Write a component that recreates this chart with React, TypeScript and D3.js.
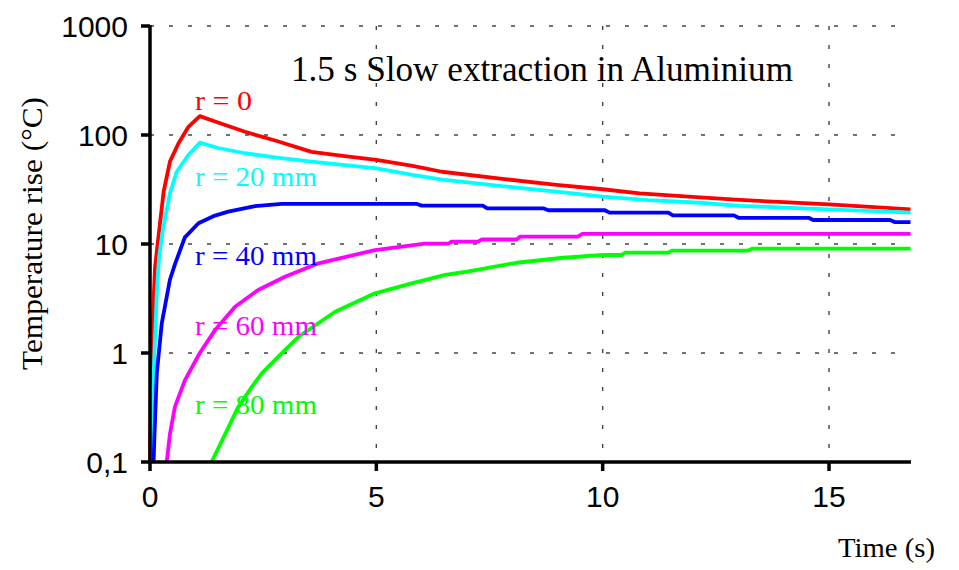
import React from "react";
import * as d3 from "d3";

// ---- data (time in s, temperature rise in °C) ----
const seriesNames = ["r = 0", "r = 20 mm", "r = 40 mm", "r = 60 mm", "r = 80 mm"];
const seriesColors = ["#ff0000", "#00ffff", "#0000ff", "#ff00ff", "#00ff00"];

const r0: [number, number][] = [
  [0, 0.1], [0.02, 0.6], [0.04, 1.1], [0.08, 3], [0.11, 6], [0.18, 11], [0.3, 30],
  [0.44, 57], [0.63, 84], [0.85, 119], [1.1, 149], [1.5, 130], [2.1, 107], [2.8, 88],
  [3.57, 70], [4.3, 64], [5.0, 59], [5.8, 52], [6.45, 46], [7.88, 39.2], [8.98, 34.8],
  [10, 31.8], [10.82, 29.2], [12.15, 26.8], [13.03, 25.4], [14, 24.2], [15, 23.1],
  [16, 21.8], [16.8, 20.8],
];
const r20: [number, number][] = [
  [0.02, 0.1], [0.06, 0.4], [0.1, 1], [0.15, 3.5], [0.2, 7.5], [0.29, 14], [0.44, 29],
  [0.59, 46], [0.85, 65.6], [1.1, 85], [1.5, 76], [2.1, 68], [2.8, 62], [3.57, 57],
  [5.0, 49.4], [5.8, 43], [6.45, 39], [7.88, 33.6], [8.98, 30.2], [10, 27.2], [11, 25.3],
  [12.15, 23.9], [13.03, 22.4], [14, 21.6], [15, 20.8], [16, 20], [16.8, 19.4],
];
const r40: [number, number][] = [
  [0.08, 0.1], [0.095, 0.16], [0.15, 0.65], [0.26, 1.87], [0.44, 4.7], [0.55, 6.5],
  [0.77, 11.5], [1.07, 15.5], [1.4, 18], [1.73, 19.8], [2.32, 22.3], [2.91, 23.3],
  [5.9, 23.3], [6.0, 22.5], [7.35, 22.5], [7.45, 21.2], [8.7, 21.2], [8.8, 20.4],
  [10.05, 20.4], [10.15, 19.4], [11.45, 19.4], [11.55, 18.3], [12.9, 18.3], [13.0, 17.4],
  [14.55, 17.4], [14.65, 16.6], [16.35, 16.6], [16.45, 15.9], [16.8, 15.9],
];
const r60: [number, number][] = [
  [0.37, 0.1], [0.44, 0.18], [0.55, 0.32], [0.77, 0.56], [1.1, 1.0], [1.44, 1.63],
  [1.88, 2.66], [2.39, 3.79], [2.98, 5.0], [3.72, 6.65], [4.97, 8.8], [6.07, 10.1],
  [6.6, 10.1], [6.66, 10.5], [7.25, 10.5], [7.33, 11.0], [8.1, 11.0], [8.18, 11.7],
  [9.45, 11.7], [9.55, 12.4], [16.8, 12.4],
];
const r80: [number, number][] = [
  [1.36, 0.1], [1.66, 0.18], [1.95, 0.32], [2.25, 0.49], [2.47, 0.65], [2.83, 0.92],
  [3.28, 1.41], [4.09, 2.39], [4.97, 3.53], [5.78, 4.35], [6.52, 5.2], [7.07, 5.65],
  [8.1, 6.73], [9.13, 7.48], [10.02, 7.93], [10.42, 7.93], [10.5, 8.32], [11.45, 8.32],
  [11.53, 8.68], [13.2, 8.68], [13.3, 9.06], [16.8, 9.06],
];
const seriesData = [r0, r20, r40, r60, r80];

const xTicks = [0, 5, 10, 15];
const yTicks = [0.1, 1, 10, 100, 1000];
const yTickLabels = ["0,1", "1", "10", "100", "1000"];
const xGrid = [5, 10, 15];
const yGrid = [1, 10, 100, 1000];

const title = "1.5 s Slow extraction in Aluminium";
const xLabel = "Time (s)";
const yLabel = "Temperature rise (°C)";

export default function App() {
  const W = 959, H = 570;
  const x = d3.scaleLinear().domain([0, 16.8]).range([150, 910.5]);
  const y = d3.scaleLog().domain([0.1, 1000]).range([462, 26]);
  const line = d3
    .line<[number, number]>()
    .x((d) => x(d[0]))
    .y((d) => y(d[1]));

  const labelBaselines = [110, 186, 265, 335, 414];
  const serif = "'Liberation Serif', 'Times New Roman', serif";
  const sans = "'Liberation Sans', Arial, sans-serif";

  return (
    <svg
      width={W}
      height={H}
      style={{ position: "absolute", left: 0, top: 0, background: "#fff" }}
    >
      <rect width={W} height={H} fill="#fff" />
      {/* grid */}
      {yGrid.map((v) => (
        <line
          key={"yg" + v}
          x1={x(0)}
          x2={910}
          y1={y(v)}
          y2={y(v)}
          stroke="#444"
          strokeWidth={1.4}
          strokeDasharray="4,15"
        />
      ))}
      {xGrid.map((v) => (
        <line
          key={"xg" + v}
          x1={x(v)}
          x2={x(v)}
          y1={y(1000)}
          y2={y(0.1)}
          stroke="#444"
          strokeWidth={1.4}
          strokeDasharray="4,15"
        />
      ))}
      {/* series */}
      {seriesData.map((d, i) => (
        <path
          key={"s" + i}
          d={line(d) || ""}
          fill="none"
          stroke={seriesColors[i]}
          strokeWidth={3.8}
          strokeLinejoin="round"
        />
      ))}
      {/* axes */}
      <line x1={x(0)} x2={x(0)} y1={y(1000) - 1} y2={y(0.1) + 1.5} stroke="#000" strokeWidth={3.5} />
      <line x1={x(0) - 1.5} x2={911} y1={y(0.1)} y2={y(0.1)} stroke="#000" strokeWidth={3.5} />
      {yTicks.map((v, i) => (
        <g key={"yt" + v}>
          <line x1={x(0) - 9} x2={x(0)} y1={y(v)} y2={y(v)} stroke="#000" strokeWidth={3.5} />
          <text
            x={128}
            y={y(v) + 10.5}
            textAnchor="end"
            fontFamily={sans}
            fontSize={30}
            fill="#000"
          >
            {yTickLabels[i]}
          </text>
        </g>
      ))}
      {xTicks.map((v) => (
        <g key={"xt" + v}>
          <line x1={x(v)} x2={x(v)} y1={y(0.1)} y2={y(0.1) + 9} stroke="#000" strokeWidth={3.5} />
          <text
            x={x(v)}
            y={507}
            textAnchor="middle"
            fontFamily={sans}
            fontSize={30}
            fill="#000"
          >
            {v}
          </text>
        </g>
      ))}
      {/* curve labels */}
      {seriesNames.map((n, i) => (
        <text
          key={"l" + i}
          x={195}
          y={labelBaselines[i]}
          fontFamily={serif}
          fontSize={28}
          fill={seriesColors[i]}
          textLength={i === 0 ? 57 : 122}
          lengthAdjust="spacingAndGlyphs"
        >
          {n}
        </text>
      ))}
      {/* title */}
      <text
        x={291}
        y={81}
        fontFamily={serif}
        fontSize={35}
        fill="#000"
        textLength={502}
        lengthAdjust="spacingAndGlyphs"
      >
        {title}
      </text>
      <text
        x={838}
        y={557}
        fontFamily={serif}
        fontSize={28}
        fill="#000"
        textLength={97}
        lengthAdjust="spacingAndGlyphs"
      >
        {xLabel}
      </text>
      <text
        transform={`translate(42,370) rotate(-90)`}
        fontFamily={serif}
        fontSize={29}
        fill="#000"
        textLength={273}
        lengthAdjust="spacingAndGlyphs"
      >
        {yLabel}
      </text>
    </svg>
  );
}
